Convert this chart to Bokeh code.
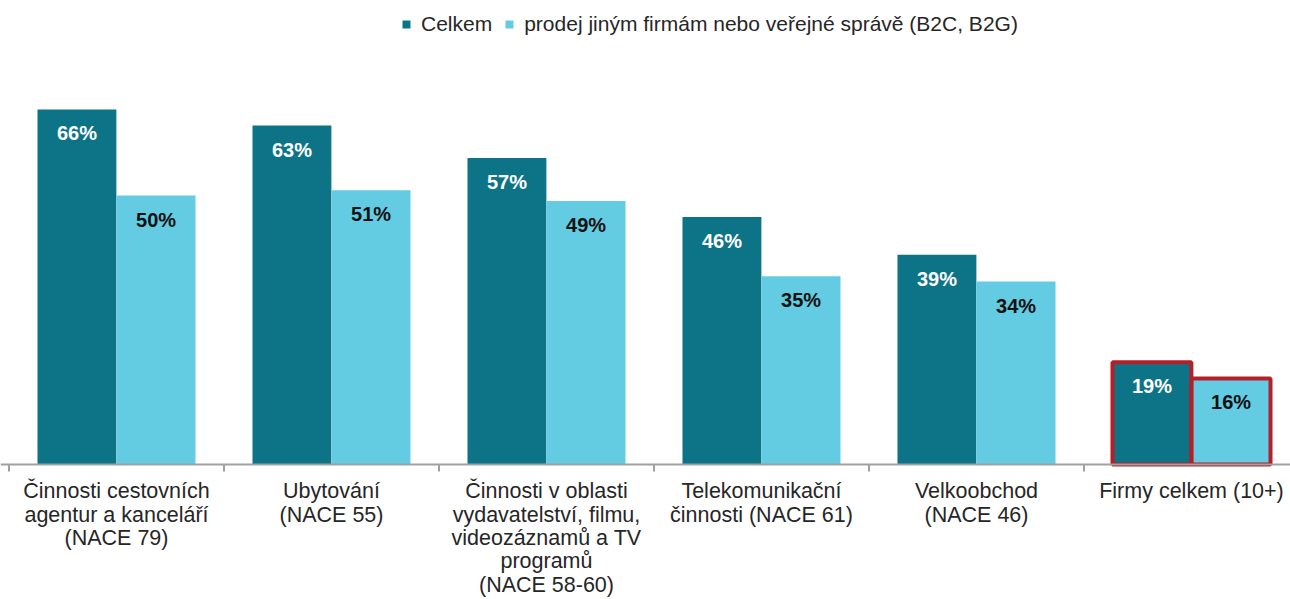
from bokeh.plotting import figure
from bokeh.models import ColumnDataSource, Legend, LegendItem, Range1d, Span
from bokeh.core.properties import value
from bokeh.embed import file_html
from bokeh.resources import INLINE

categories = [
    "Činnosti cestovních\nagentur a kanceláří\n(NACE 79)",
    "Ubytování\n(NACE 55)",
    "Činnosti v oblasti\nvydavatelství, filmu,\nvideozáznamů a TV\nprogramů\n(NACE 58-60)",
    "Telekomunikační\nčinnosti (NACE 61)",
    "Velkoobchod\n(NACE 46)",
    "Firmy celkem (10+)",
]
celkem = [66, 63, 57, 46, 39, 19]
b2c = [50, 51, 49, 35, 34, 16]
highlight = [False, False, False, False, False, True]
series_names = ["Celkem", "prodej jiným firmám nebo veřejné správě (B2C, B2G)"]

DARK = "#0D7488"
LIGHT = "#63CCE3"
RED = "#B3202A"
FONT_NAME = "Liberation Sans"
FONT = value(FONT_NAME)

n = len(categories)
centers = [i + 0.5 for i in range(n)]
bw = 0.367
off = 0.184

src_dark = ColumnDataSource(dict(
    x=[c - off for c in centers], top=celkem,
    lab=[f"{v}%" for v in celkem],
    la=[1.0 if h else 0.0 for h in highlight],
))
src_light = ColumnDataSource(dict(
    x=[c + off for c in centers], top=b2c,
    lab=[f"{v}%" for v in b2c],
    la=[1.0 if h else 0.0 for h in highlight],
))

W, H = 1290, 599
p = figure(width=W, height=H, x_range=Range1d(-0.0395, 5.9605), y_range=Range1d(-25.1, 86.26),
           x_axis_type=None, y_axis_type=None, output_backend="svg", toolbar_location=None,
           min_border=0)
p.outline_line_color = None
p.xgrid.visible = False
p.ygrid.visible = False

r1 = p.vbar(x="x", top="top", bottom=0, width=bw, source=src_dark, fill_color=DARK,
            line_color=RED, line_alpha="la", line_width=4)
r2 = p.vbar(x="x", top="top", bottom=0, width=bw, source=src_light, fill_color=LIGHT,
            line_color=RED, line_alpha="la", line_width=4)

p.text(x="x", y="top", text="lab", source=src_dark, text_align="center", text_baseline="middle",
       y_offset=24, text_font=FONT, text_font_style="bold", text_font_size="20px", text_color="white")
p.text(x="x", y="top", text="lab", source=src_light, text_align="center", text_baseline="middle",
       y_offset=24, text_font=FONT, text_font_style="bold", text_font_size="20px", text_color="#111111")

# baseline axis and boundary ticks
p.add_layout(Span(location=0, dimension="width", line_color="#A0A0A0", line_width=2))
bounds = list(range(n + 1))
p.segment(x0=bounds, y0=[0] * len(bounds), x1=bounds, y1=[-1.3] * len(bounds),
          line_color="#A0A0A0", line_width=2)

# category labels
p.text(x=centers, y=[0] * n, text=categories, text_align="center", text_baseline="top",
       y_offset=15, text_font=FONT, text_font_size="21.5px", text_line_height=0.97,
       text_color="#262626")

legend = Legend(items=[LegendItem(label=series_names[0], renderers=[r1]),
                       LegendItem(label=series_names[1], renderers=[r2])],
                orientation="horizontal", location=(401, 563),
                label_text_font=FONT_NAME, label_text_font_size="21px", label_text_color="#262626",
                glyph_width=10, glyph_height=10, label_standoff=10, spacing=12,
                padding=0, margin=0, border_line_alpha=0, background_fill_alpha=0)
p.add_layout(legend)

open("out.html", "w").write(file_html(p, INLINE))
